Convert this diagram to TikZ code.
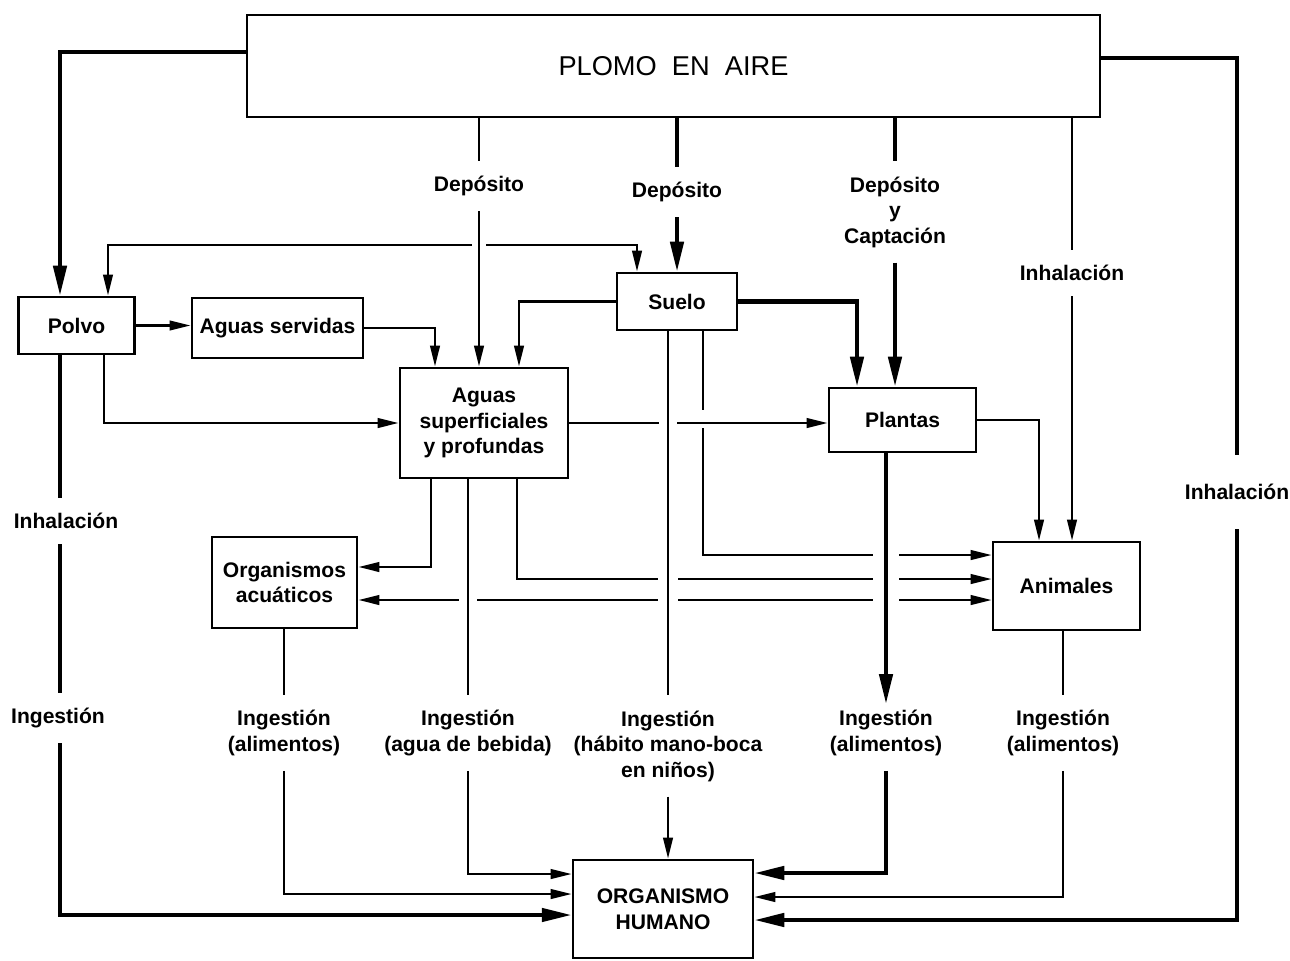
\documentclass[tikz,border=0pt]{standalone}
\usepackage{fontspec}
\setmainfont{Liberation Sans}
\usepackage{tikz}
\usetikzlibrary{arrows.meta}
\newcommand{\cruce}[3]{\fill[white] (#1) ++(-#2,-#3) rectangle ++(2*#2,2*#3);}
\begin{document}
\begin{tikzpicture}[x=0.02cm, y=-0.02cm, line width=1.3pt, >={Triangle[length=12pt,width=5.5pt]},
  caja/.style={draw, line width=1.6pt, align=center, inner sep=0pt, font=\bfseries\fontsize{12}{14.5}\selectfont},
  rotulo/.style={align=center, inner xsep=2pt, inner ysep=8pt, font=\bfseries\fontsize{12}{14.5}\selectfont},
  grueso/.style={line width=2.3pt, >={Triangle[length=17pt,width=7.5pt]}}]
\useasboundingbox (0,0) rectangle (1290,960);
\node[caja, minimum width=17.06cm, minimum height=2.04cm, font=\fontsize{15.5}{18}\selectfont] (aire) at (673.5,66) {PLOMO\ \ EN\ \ AIRE};
\node[caja, minimum width=2.32cm, minimum height=1.14cm] (polvo) at (76.5,325.5) {Polvo};
\node[caja, minimum width=3.42cm, minimum height=1.2cm] (servidas) at (277.5,328) {Aguas servidas};
\node[caja, minimum width=3.36cm, minimum height=2.2cm] (aguas) at (484,423) {Aguas\\superficiales\\y profundas};
\node[caja, minimum width=2.4cm, minimum height=1.14cm] (suelo) at (677,301.5) {Suelo};
\node[caja, minimum width=2.94cm, minimum height=1.28cm] (plantas) at (902.5,420) {Plantas};
\node[caja, minimum width=2.9cm, minimum height=1.82cm] (acuaticos) at (284.5,582.5) {Organismos\\acuáticos};
\node[caja, minimum width=2.94cm, minimum height=1.76cm] (animales) at (1066.5,586) {Animales};
\node[caja, minimum width=3.6cm, minimum height=1.96cm] (humano) at (663,909) {ORGANISMO\\HUMANO};
\node[rotulo] (dep1) at (479,186) {Depósito};
\node[rotulo] (dep2) at (677,192) {Depósito};
\node[rotulo] (dep3) at (895,212) {Depósito\\y\\Captación};
\node[rotulo] (inh1) at (1072,273) {Inhalación};
\node[rotulo, inner ysep=16pt] (inh2) at (1237,492) {Inhalación};
\node[rotulo] (inh3) at (66,521) {Inhalación};
\node[rotulo] (ing0) at (58,718) {Ingestión};
\node[rotulo] (ing1) at (284,733) {Ingestión\\(alimentos)};
\node[rotulo] (ing2) at (468,733) {Ingestión\\(agua de bebida)};
\node[rotulo] (ing3) at (668,746) {Ingestión\\(hábito mano-boca\\en niños)};
\node[rotulo] (ing4) at (886,733) {Ingestión\\(alimentos)};
\node[rotulo] (ing5) at (1063,733) {Ingestión\\(alimentos)};
\draw[<->] (polvo.north -| 108,0) -- (108,245) -| (suelo.north -| 637,0);
\draw[->] (suelo.south -| 703,0) |- (animales.west |- 0,555);
\draw[->] (aguas.south -| 517,0) |- (animales.west |- 0,579);
\draw[<->] (acuaticos.east |- 0,600) -- (animales.west |- 0,600);
\cruce{479,245}{7}{4}
\cruce{886,555}{13}{4} \cruce{886,579}{13}{4} \cruce{886,600}{13}{4}
\cruce{668,579}{10}{4} \cruce{668,600}{10}{4} \cruce{468,600}{9}{4}
\cruce{703,419}{4}{9}
\draw[->] (aguas.east) -- (plantas.west |- aguas.east);
\cruce{668,423}{9}{4}
\draw[grueso,->] (aire.west |- 0,52) -| (polvo.north -| 60,0);
\draw[grueso] (aire.east |- 0,58) -| (inh2.north);
\draw[grueso,->] (inh2.south) |- (humano.east |- 0,920);
\draw (aire.south -| dep1) -- (dep1);
\draw[->] (dep1) -- (aguas.north -| dep1);
\draw[grueso] (aire.south -| dep2) -- (dep2);
\draw[grueso,->] (dep2) -- (suelo.north -| dep2);
\draw[grueso] (aire.south -| dep3) -- (dep3);
\draw[grueso,->] (dep3) -- (plantas.north -| dep3);
\draw (aire.south -| inh1) -- (inh1);
\draw[->] (inh1) -- (animales.north -| inh1);
\draw[->] (polvo.east) -- (servidas.west |- polvo.east);
\draw[->] (servidas.east) -| (aguas.north -| 435,0);
\draw[->] (polvo.south -| 104,0) |- (aguas.west);
\draw[->] (suelo.west) -| (aguas.north -| 519,0);
\draw[grueso,->] (suelo.east) -| (plantas.north -| 857,0);
\draw (suelo.south -| ing3) -- (ing3);
\draw[->] (ing3) -- (humano.north -| ing3);
\draw[->] (aguas.south -| 431,0) |- (acuaticos.east |- 0,567);
\draw (aguas.south -| ing2) -- (ing2);
\draw[->] (ing2) |- (humano.west |- 0,874);
\draw[->] (plantas.east) -| (animales.north -| 1039,0);
\draw (acuaticos.south -| ing1) -- (ing1);
\draw[->] (ing1) |- (humano.west |- 0,894);
\draw[grueso,->, shorten >=-5pt] (plantas.south -| ing4) -- (ing4);
\draw[grueso,->] (ing4) |- (humano.east |- 0,873);
\draw (animales.south -| ing5) -- (ing5);
\draw[->] (ing5) |- (humano.east |- 0,897);
\draw[grueso] (polvo.south -| 60,0) -- (inh3.north -| 60,0);
\draw[grueso] (inh3.south -| 60,0) -- (ing0.north -| 60,0);
\draw[grueso,->] (ing0.south -| 60,0) |- (humano.west |- 0,915);
\end{tikzpicture}
\end{document}
